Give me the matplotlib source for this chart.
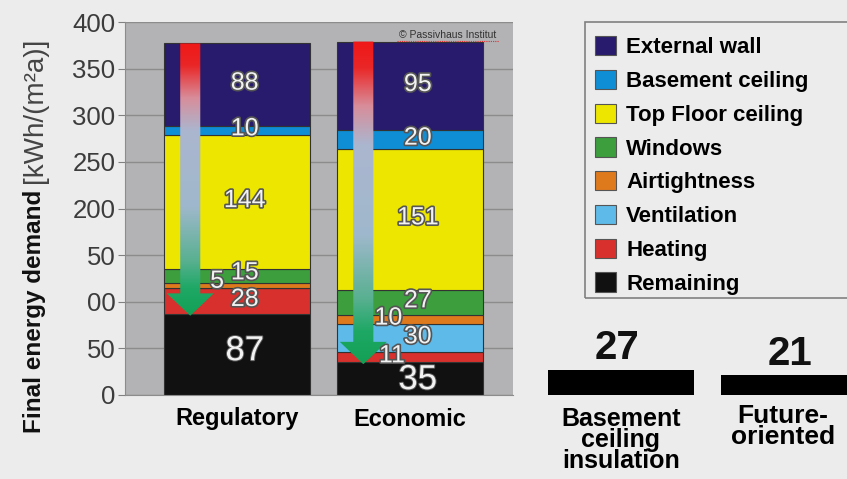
import numpy as np
import matplotlib.pyplot as plt
from matplotlib.patches import Polygon, Rectangle, Patch
from matplotlib.colors import LinearSegmentedColormap
import matplotlib.patheffects as pe

plt.rcParams['font.family'] = ['Liberation Sans', 'DejaVu Sans']

# --- data ---
scenarios = ["Regulatory", "Economic"]
# stacking order, bottom -> top
components = ["Remaining", "Heating", "Ventilation", "Airtightness",
              "Windows", "Top Floor ceiling", "Basement ceiling", "External wall"]
regulatory = [87, 28, 0, 5, 15, 144, 10, 88]
economic = [35, 11, 30, 10, 27, 151, 20, 95]

extra_scenarios = ["Basement\nceiling\ninsulation", "Future-\noriented"]
extra_remaining = [27, 21]

y_ticks = [0, 50, 100, 150, 200, 250, 300, 350, 400]
y_tick_labels = ["0", "50", "00", "50", "200", "250", "300", "350", "400"]

colors = {
    "External wall": "#281a6c",
    "Basement ceiling": "#0f8ed6",
    "Top Floor ceiling": "#ece600",
    "Windows": "#3c9e3c",
    "Airtightness": "#df7a1c",
    "Ventilation": "#5ebae8",
    "Heating": "#d8302c",
    "Remaining": "#111111",
}
legend_order = components[::-1]

# small label nudges (x in bar units, y in kWh)
label_dx = {(0, "Airtightness"): -0.16, (1, "Airtightness"): -0.17, (1, "Heating"): -0.15}
label_dy = {(0, "Airtightness"): 3, (0, "Windows"): 2, (1, "Remaining"): -3, (0, "Remaining"): 2}

bg = "#ececec"
fig = plt.figure(figsize=(8.47, 4.79), dpi=100, facecolor=bg)
W, H = 847, 479
ax = fig.add_axes([125 / W, 1 - 395 / H, 388 / W, 373 / H])
ax.set_facecolor("#b3b3b5")

x = np.arange(len(scenarios))
width = 0.844
values = np.array([regulatory, economic])
bottoms = np.zeros(len(scenarios))
for j, comp in enumerate(components):
    ax.bar(x, values[:, j], width, bottom=bottoms, color=colors[comp],
           edgecolor="#333333", linewidth=0.8, zorder=2)
    for i in range(len(scenarios)):
        v = values[i, j]
        if v <= 0:
            continue
        big = comp == "Remaining"
        stroke = 1.4 if big else 2.4
        ax.text(x[i] + 0.045 + label_dx.get((i, comp), 0),
                bottoms[i] + v / 2 + 2 + label_dy.get((i, comp), 0),
                str(v), ha="center", va="center",
                fontsize=25 if big else 18, color="#f2f2f2", zorder=6,
                path_effects=[pe.withStroke(linewidth=stroke, foreground="#555555")])
    bottoms += values[:, j]
totals = bottoms.copy()

# gradient arrows: from top of the bar down to the "Remaining" block
cmap = LinearSegmentedColormap.from_list("arr", [
    (0.0, "#f01818"), (0.08, "#ea2626"), (0.2, "#d88d9a"), (0.32, "#abb6cf"),
    (0.6, "#9fb8cc"), (0.8, "#58b090"), (0.9, "#1ea865"), (1.0, "#13a055")])
grad = np.linspace(0, 1, 256).reshape(-1, 1)
for i in range(len(scenarios)):
    xc = x[i] - 0.27
    top = totals[i]
    tip = values[i, 0] - 2
    shw, hhw, hl = 0.058, 0.136, 24
    verts = [(xc - shw, top), (xc + shw, top), (xc + shw, tip + hl), (xc + hhw, tip + hl),
             (xc, tip), (xc - hhw, tip + hl), (xc - shw, tip + hl)]
    poly = Polygon(verts, closed=True, facecolor="none", edgecolor="none")
    ax.add_patch(poly)
    im = ax.imshow(grad, cmap=cmap, extent=[xc - hhw, xc + hhw, tip, top],
                   aspect="auto", origin="upper", zorder=4)
    im.set_clip_path(poly)

ax.set_xlim(-0.647, 1.595)
ax.set_ylim(0, 400)
ax.set_yticks(y_ticks)
ax.set_yticklabels(y_tick_labels, fontsize=18.5, color="#3c3c3c")
ax.set_xticks(x)
ax.set_xticklabels(scenarios, fontsize=17, fontweight="bold")
ax.tick_params(axis="x", length=0, pad=9)
ax.tick_params(axis="y", length=5, color="#808080", pad=2)
ax.grid(axis="y", color="#8c8c8c", linewidth=1)
ax.set_axisbelow(True)
for s in ["top", "right"]:
    ax.spines[s].set_visible(False)
for s in ["left", "bottom"]:
    ax.spines[s].set_color("#8c8c8c")

ax.text(0.832, 0.966, "© Passivhaus Institut", transform=ax.transAxes,
        fontsize=7.5, color="#333333", ha="center", va="center")
ax.plot([0.70, 0.965], [0.948, 0.948], transform=ax.transAxes, color="#e03030",
        linewidth=0.8, linestyle=(0, (1, 1)))

# cropped continuation: remaining demand of further variants
ax2 = fig.add_axes([513 / W, 1 - 395 / H, (W - 513) / W, 373 / H])
ax2.patch.set_alpha(0)
x2 = np.arange(len(extra_scenarios))
ax2.bar(x2, extra_remaining, width, color="#000000", zorder=2)
for xi, v in zip(x2, extra_remaining):
    ax2.text(xi - 0.02, v + 3, str(v), ha="center", va="bottom",
             fontsize=29, fontweight="bold", color="#111111")
ax2.set_xlim(-0.624, 1.307)
ax2.set_ylim(0, 400)
ax2.set_yticks([])
ax2.set_xticks(x2)
ax2.set_xticklabels(extra_scenarios, fontsize=18, fontweight="bold", linespacing=0.82)
ax2.tick_params(axis="x", length=0, pad=9)
for s in ax2.spines.values():
    s.set_visible(False)
# second label sits a little left of its (cropped) bar
ax2.text(x2[1] - 0.065, -0.025, extra_scenarios[1], transform=ax2.get_xaxis_transform(),
         ha="center", va="top", fontsize=19, fontweight="bold", linespacing=0.82)
ax2.get_xticklabels()[1].set_visible(False)

# legend
handles = [Patch(facecolor=colors[c], edgecolor="#555555", linewidth=0.8) for c in legend_order]
fig.legend(handles, legend_order, loc="upper left", bbox_to_anchor=(595 / W, 1 - 36 / H),
           frameon=False, prop={"weight": "bold", "size": 16},
           handlelength=0.95, handleheight=0.95, handletextpad=0.45, labelspacing=0.52,
           borderaxespad=0, borderpad=0)
fig.patches.append(Rectangle((585 / W, 1 - 298 / H), 0.5, (298 - 22) / H,
                             transform=fig.transFigure, facecolor="none",
                             edgecolor="#808080", linewidth=1.2))

# y axis label: bold part + units
fig.text(35 / W, 1 - 433 / H, "Final energy demand", rotation=90, ha="center", va="bottom",
         fontsize=17.5, fontweight="bold", color="#111111")
fig.text(35 / W, 1 - 183 / H, "[kWh/(m²a)]", rotation=90, ha="center", va="bottom",
         fontsize=20, color="#444444")

fig.savefig("out.png", dpi=100, facecolor=bg)
